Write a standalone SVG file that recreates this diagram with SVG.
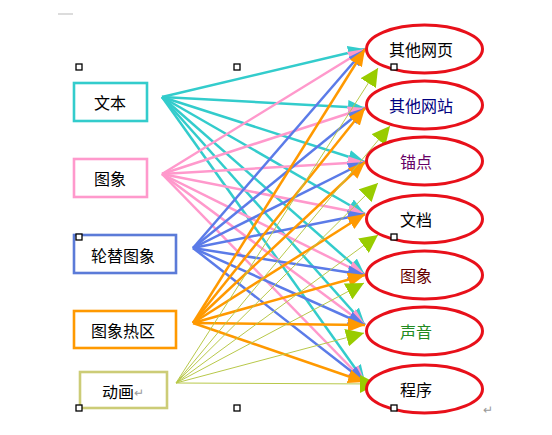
<svg xmlns="http://www.w3.org/2000/svg" width="552" height="435" viewBox="0 0 552 435">
<defs>
<style>
.t{font-family:"Noto Sans CJK SC","Liberation Sans",sans-serif;font-size:16px;text-anchor:middle;dominant-baseline:central}
.box{fill:#fff;stroke-width:2.6}
.ell{fill:#fff;stroke:#e8101a;stroke-width:3}
.h{fill:#fff;stroke:#000;stroke-width:1.3}
.c{stroke:#33cccc;stroke-width:2.5;fill:none}
.p{stroke:#ff99cc;stroke-width:2.5;fill:none}
.b{stroke:#5b7be8;stroke-width:2.5;fill:none}
.o{stroke:#ff9900;stroke-width:2.5;fill:none}
.g{stroke:#b8c84a;stroke-width:1;fill:none}
</style>
<marker id="mc" markerUnits="userSpaceOnUse" markerWidth="18" markerHeight="14" refX="17" refY="7" orient="auto"><path d="M0,0L17,7L0,14z" fill="#33cccc"/></marker>
<marker id="mp" markerUnits="userSpaceOnUse" markerWidth="18" markerHeight="14" refX="17" refY="7" orient="auto"><path d="M0,0L17,7L0,14z" fill="#ff99cc"/></marker>
<marker id="mb" markerUnits="userSpaceOnUse" markerWidth="18" markerHeight="14" refX="17" refY="7" orient="auto"><path d="M0,0L17,7L0,14z" fill="#5b7be8"/></marker>
<marker id="mo" markerUnits="userSpaceOnUse" markerWidth="18" markerHeight="14" refX="17" refY="7" orient="auto"><path d="M0,0L17,7L0,14z" fill="#ff9900"/></marker>
<marker id="mg" markerUnits="userSpaceOnUse" markerWidth="20" markerHeight="18" refX="18" refY="9" orient="auto"><path d="M0,0L18,9L0,18z" fill="#99cc00"/></marker>
</defs>
<rect width="552" height="435" fill="#fff"/>
<line x1="58" y1="14" x2="73" y2="14" stroke="#d0d0d0" stroke-width="1.5"/>
<g id="connectors">
<g marker-end="url(#mc)">
<line class="c" x1="162" y1="97" x2="365" y2="49"/>
<line class="c" x1="162" y1="97" x2="365" y2="108"/>
<line class="c" x1="162" y1="97" x2="365" y2="162"/>
<line class="c" x1="162" y1="97" x2="365" y2="214"/>
<line class="c" x1="162" y1="97" x2="365" y2="275"/>
<line class="c" x1="162" y1="97" x2="365" y2="325"/>
<line class="c" x1="162" y1="97" x2="365" y2="382"/>
</g>
<g marker-end="url(#mp)">
<line class="p" x1="162" y1="174" x2="365" y2="49"/>
<line class="p" x1="162" y1="174" x2="365" y2="108"/>
<line class="p" x1="162" y1="174" x2="365" y2="162"/>
<line class="p" x1="162" y1="174" x2="365" y2="214"/>
<line class="p" x1="162" y1="174" x2="365" y2="275"/>
<line class="p" x1="162" y1="174" x2="365" y2="325"/>
<line class="p" x1="162" y1="174" x2="365" y2="382"/>
</g>
<g marker-end="url(#mb)">
<line class="b" x1="193" y1="248" x2="365" y2="49"/>
<line class="b" x1="193" y1="248" x2="365" y2="108"/>
<line class="b" x1="193" y1="248" x2="365" y2="162"/>
<line class="b" x1="193" y1="248" x2="365" y2="214"/>
<line class="b" x1="193" y1="248" x2="365" y2="275"/>
<line class="b" x1="193" y1="248" x2="365" y2="325"/>
<line class="b" x1="193" y1="248" x2="365" y2="382"/>
</g>
<g marker-end="url(#mo)">
<line class="o" x1="193" y1="323" x2="365" y2="49"/>
<line class="o" x1="193" y1="323" x2="365" y2="108"/>
<line class="o" x1="193" y1="323" x2="365" y2="162"/>
<line class="o" x1="193" y1="323" x2="365" y2="214"/>
<line class="o" x1="193" y1="323" x2="365" y2="275"/>
<line class="o" x1="193" y1="323" x2="365" y2="325"/>
<line class="o" x1="193" y1="323" x2="365" y2="382"/>
</g>
<g marker-end="url(#mg)">
<line class="g" x1="176" y1="383" x2="378" y2="68"/>
<line class="g" x1="176" y1="383" x2="390" y2="126"/>
<line class="g" x1="176" y1="383" x2="378" y2="183"/>
<line class="g" x1="176" y1="383" x2="378" y2="235"/>
<line class="g" x1="176" y1="383" x2="364" y2="283"/>
<line class="g" x1="176" y1="383" x2="364" y2="333"/>
<line class="g" x1="176" y1="383" x2="378" y2="384"/>
</g>
</g>
<g id="n-wenben"><rect class="box" x="74" y="83" width="73" height="38" stroke="#33cccc"/><text class="t" x="110" y="102">文本</text></g>
<g id="n-tuxiang"><rect class="box" x="74" y="159" width="73" height="38" stroke="#ff99cc"/><text class="t" x="110" y="178">图象</text></g>
<g id="n-luntitu"><rect class="box" x="74" y="235" width="102" height="38" stroke="#5b7bd8"/><text class="t" x="123" y="255">轮替图象</text></g>
<g id="n-requ"><rect class="box" x="74" y="311" width="102" height="37" stroke="#ff9900"/><text class="t" x="123" y="330">图象热区</text></g>
<g id="n-donghua"><rect class="box" x="80" y="372" width="87" height="36" stroke="#cccc77" stroke-width="1.5"/><text class="t" x="123" y="391">动画<tspan fill="#999" font-size="12">↵</tspan></text></g>
<g id="e1"><ellipse class="ell" cx="424.5" cy="49" rx="58" ry="24"/><text class="t" x="421" y="49" fill="#000">其他网页</text></g>
<g id="e2"><ellipse class="ell" cx="424.5" cy="105" rx="58" ry="24"/><text class="t" x="421" y="105" fill="#000080">其他网站</text></g>
<g id="e3"><ellipse class="ell" cx="424.5" cy="161" rx="58" ry="24"/><text class="t" x="416" y="161" fill="#660066">锚点</text></g>
<g id="e4"><ellipse class="ell" cx="424.5" cy="219" rx="58" ry="24"/><text class="t" x="416" y="219" fill="#000">文档</text></g>
<g id="e5"><ellipse class="ell" cx="424.5" cy="275" rx="58" ry="24"/><text class="t" x="416" y="275" fill="#660000">图象</text></g>
<g id="e6"><ellipse class="ell" cx="424.5" cy="331" rx="58" ry="24"/><text class="t" x="416" y="331" fill="#228b22">声音</text></g>
<g id="e7"><ellipse class="ell" cx="424.5" cy="389" rx="58" ry="24"/><text class="t" x="416" y="389" fill="#000">程序</text></g>
<g id="handles">
<rect class="h" x="76" y="64" width="6" height="6"/>
<rect class="h" x="234" y="64" width="6" height="6"/>
<rect class="h" x="391" y="64" width="6" height="6"/>
<rect class="h" x="76" y="234" width="6" height="6"/>
<rect class="h" x="391" y="234" width="6" height="6"/>
<rect class="h" x="76" y="405" width="6" height="6"/>
<rect class="h" x="234" y="405" width="6" height="6"/>
<rect class="h" x="391" y="405" width="6" height="6"/>
</g>
<text x="488" y="414" font-family="Noto Sans CJK SC,sans-serif" font-size="12" fill="#999" text-anchor="middle">↵</text>
</svg>
